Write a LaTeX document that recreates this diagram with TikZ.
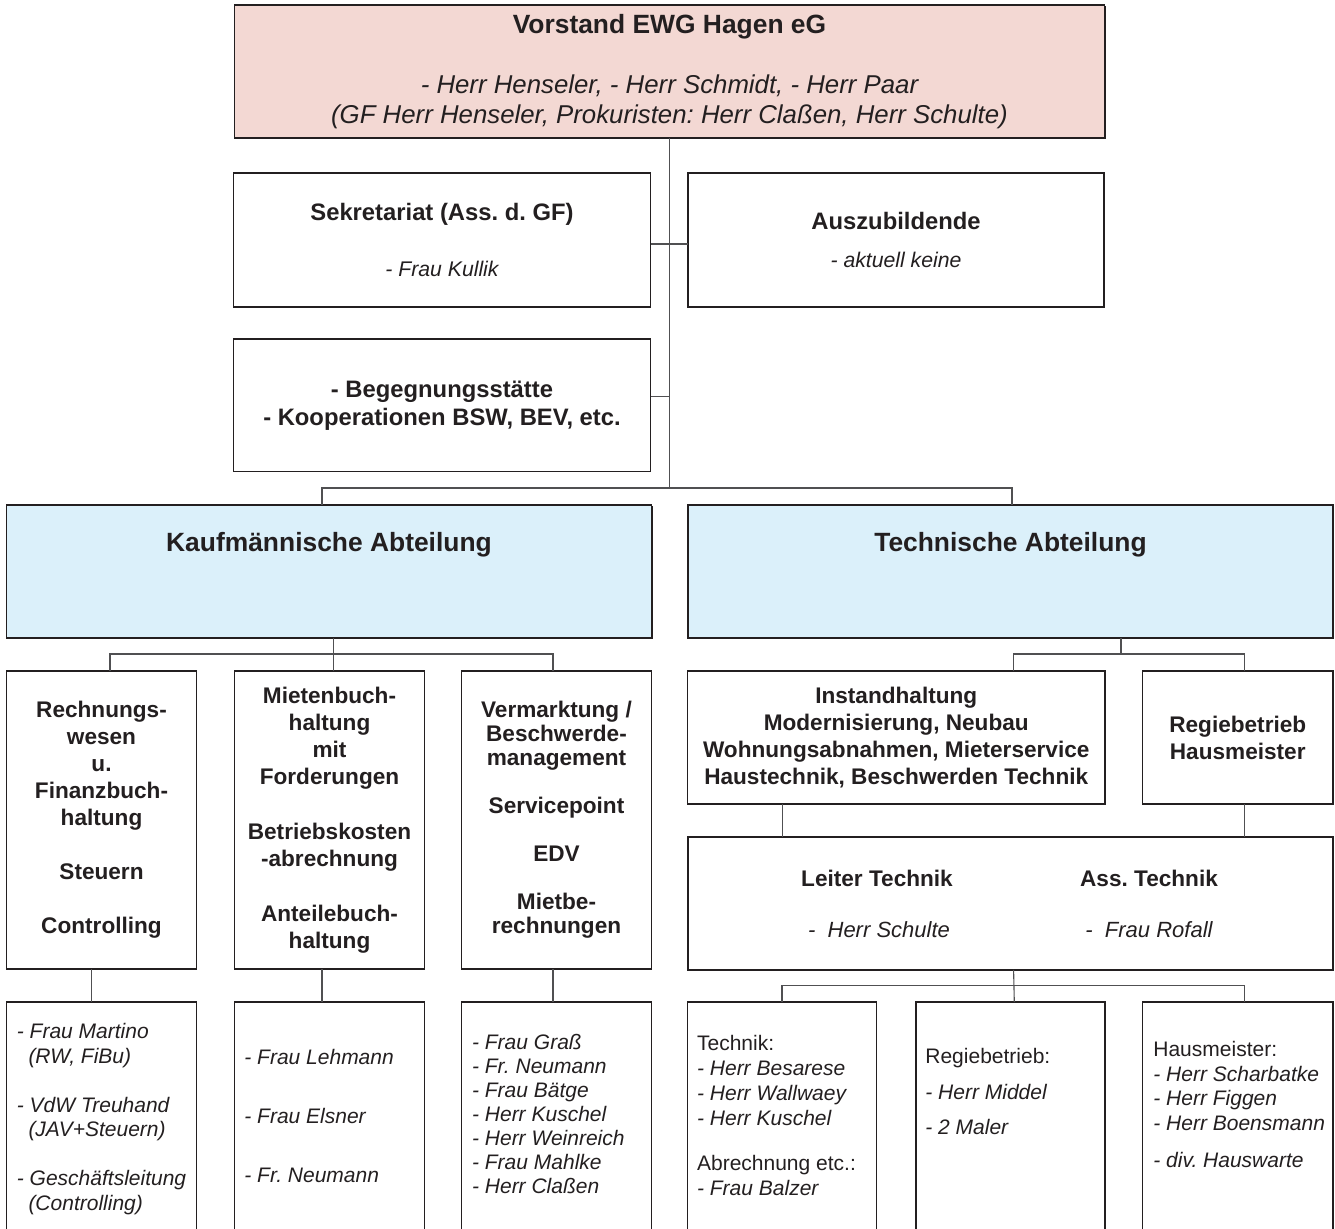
\documentclass[tikz,border=0pt]{standalone}
\usepackage{fontspec}
\setmainfont{Liberation Sans}
\usepackage{xcolor}
\usepackage{tikz}
\usetikzlibrary{shadows}
\definecolor{EwgInk}{HTML}{231F20}
\definecolor{EwgLine}{HTML}{505052}
\definecolor{EwgRose}{HTML}{F3D8D3}
\definecolor{EwgSky}{HTML}{DBF0FA}
\frenchspacing

\begin{document}
\begin{tikzpicture}[x=0.5pt, y=-0.5pt,
  box/.style={draw=EwgInk, line width=0.95pt, inner sep=0pt, outer sep=0pt, align=center, text=EwgInk},
  headbox/.style={box, drop shadow={shadow xshift=0.7pt, shadow yshift=-0.7pt, opacity=1, fill=EwgInk}},
  link/.style={draw=EwgLine, line width=0.55pt},
  txt/.style={text=EwgInk, inner sep=0pt},
  headtxt/.style={txt, anchor=base, font=\fontsize{13.2}{16}\selectfont\bfseries},
  midtxt/.style={font=\fontsize{11.9}{14}\selectfont\bfseries},
  subtxt/.style={font=\fontsize{11.3}{13.5}\selectfont\bfseries},
  listtxt/.style={txt, anchor=north west, align=left, font=\fontsize{10.5}{12.25}\selectfont\itshape}]
  \useasboundingbox (0,0) rectangle (1335,1228);
  % board at the top
  \node[headbox, fill=EwgRose, minimum width=435pt, minimum height=66.5pt,
        font=\fontsize{12.9}{15}\selectfont\itshape] (vorstand) at (669.5,71.5)
    {{\fontsize{13.2}{16}\selectfont\bfseries\upshape Vorstand EWG Hagen eG}\\[14.6pt]
     - Herr Henseler, - Herr Schmidt, - Herr Paar\\
     (GF Herr Henseler, Prokuristen: Herr Claßen, Herr Schulte)};
  % staff boxes hanging off the trunk
  \node[box, midtxt, minimum width=208.5pt, minimum height=66.85pt] (sekr) at (442,240)
    {Sekretariat (Ass. d. GF)\\[14pt]{\fontsize{10.6}{12}\selectfont\mdseries\itshape - Frau Kullik}};
  \node[box, midtxt, minimum width=208pt, minimum height=66.85pt] (azubi) at (896,240)
    {Auszubildende\\[4.7pt]{\fontsize{10.6}{12}\selectfont\mdseries\itshape - aktuell keine}};
  \node[box, midtxt, minimum width=208.5pt, minimum height=66.25pt] (begeg) at (442,405.25)
    {- Begegnungsstätte\\- Kooperationen BSW, BEV, etc.};
  % the two departments
  \node[headbox, fill=EwgSky, minimum width=322.5pt, minimum height=66.5pt] (kauf) at (329,571.5) {};
  \node[headtxt] (kauftitle) at (329,551.5) {Kaufmännische Abteilung};
  \node[headbox, fill=EwgSky, minimum width=322.5pt, minimum height=66.5pt] (tech) at (1010.5,571.5) {};
  \node[headtxt] (techtitle) at (1010.5,551.5) {Technische Abteilung};
  % commercial units
  \node[box, subtxt, minimum width=95pt, minimum height=149pt] (rw) at (101.5,820)
    {Rechnungs-\\wesen\\u.\\Finanzbuch-\\haltung\\[13.5pt]Steuern\\[13.5pt]Controlling};
  \node[box, subtxt, minimum width=95pt, minimum height=149pt] (mb) at (329.5,820)
    {Mietenbuch-\\haltung\\mit\\Forderungen\\[14pt]Betriebskosten\\-abrechnung\\[14pt]Anteilebuch-\\haltung};
  \node[box, subtxt, font=\fontsize{11.3}{12}\selectfont\bfseries, minimum width=95pt, minimum height=149pt] (vm) at (556.5,820)
    {Vermarktung /\\Beschwerde-\\management\\[12pt]Servicepoint\\[12pt]EDV\\[12pt]Mietbe-\\rechnungen};
  % technical units
  \node[box, subtxt, minimum width=208.75pt, minimum height=66.5pt] (inst) at (896.25,737.5)
    {Instandhaltung\\Modernisierung, Neubau\\Wohnungsabnahmen, Mieterservice\\Haustechnik, Beschwerden Technik};
  \node[box, subtxt, minimum width=95.25pt, minimum height=66.5pt] (regie) at (1237.75,737.5)
    {Regiebetrieb\\Hausmeister};
  \node[box, minimum width=322.5pt, minimum height=66.65pt] (leiter) at (1010.5,903.3) {};
  \node[txt, subtxt, anchor=base] (leitertitle) at (877,886.1) {Leiter Technik};
  \node[txt, subtxt, anchor=base] (asstitle) at (1149,886.1) {Ass. Technik};
  \node[txt, anchor=base, font=\fontsize{11}{13}\selectfont\itshape] (leitername) at (879,937.5) {-\ \ Herr Schulte};
  \node[txt, anchor=base, font=\fontsize{11}{13}\selectfont\itshape] (assname) at (1149,937.5) {-\ \ Frau Rofall};
  % staff boxes at the bottom (run off the page)
  \node[box, minimum width=95pt, minimum height=119pt] (rwp) at (101.5,1121) {};
  \node[box, minimum width=95pt, minimum height=119pt] (mbp) at (329.5,1121) {};
  \node[box, minimum width=95pt, minimum height=119pt] (vmp) at (556.5,1121) {};
  \node[box, minimum width=94.5pt, minimum height=119pt] (techp) at (782,1121) {};
  \node[box, minimum width=94.5pt, minimum height=119pt] (regiep) at (1010.3,1121) {};
  \node[box, minimum width=95.25pt, minimum height=119pt] (hausp) at (1237.75,1121) {};
  \node[listtxt] (rwlist) at (16.5,1023)
    {- Frau Martino\\\hspace*{5.8pt}(RW, FiBu)\\[12.25pt]- VdW Treuhand\\\hspace*{5.8pt}(JAV+Steuern)\\[12.25pt]- Geschäftsleitung\\\hspace*{5.8pt}(Controlling)};
  \node[listtxt] (mblist) at (244,1049.3)
    {- Frau Lehmann\\[17.25pt]- Frau Elsner\\[17.25pt]- Fr. Neumann};
  \node[listtxt, font=\fontsize{10.5}{12}\selectfont\itshape] (vmlist) at (471.7,1034)
    {- Frau Graß\\- Fr. Neumann\\- Frau Bätge\\- Herr Kuschel\\- Herr Weinreich\\- Frau Mahlke\\- Herr Claßen};
  \node[listtxt, font=\fontsize{10.5}{12.5}\selectfont\itshape] (techlist) at (696.7,1035.3)
    {{\upshape Technik:}\\- Herr Besarese\\- Herr Wallwaey\\- Herr Kuschel\\[10pt]{\upshape Abrechnung etc.:}\\- Frau Balzer};
  \node[listtxt] (regielist) at (925,1048.3)
    {{\upshape Regiebetrieb:}\\[5.75pt]- Herr Middel\\[5.25pt]- 2 Maler};
  \node[listtxt] (hauslist) at (1153,1041.3)
    {{\upshape Hausmeister:}\\- Herr Scharbatke\\- Herr Figgen\\- Herr Boensmann\\[6.25pt]- div. Hauswarte};
  % connectors
  \coordinate (topbar) at (669.5,488);
  \coordinate (kbar) at (333,654);
  \coordinate (tbar) at (1121,654);
  \coordinate (lbar) at (1013.6,985.7);
  \draw[link] (vorstand.south) -- (topbar);
  \draw[link] ([yshift=-2pt]sekr.east) -- ([yshift=-2pt]azubi.west);
  \draw[link] ([yshift=4.6pt]begeg.east) -- ([yshift=4.6pt]begeg.east -| topbar);
  \draw[link] ([xshift=-3.5pt]kauf.north) |- (topbar) -| ([xshift=0.75pt]tech.north);
  \draw[link] ([xshift=2.25pt]kauf.south) -- ([xshift=2pt]mb.north);
  \draw[link] ([xshift=4.25pt]rw.north) |- (kbar) -| ([xshift=-1.75pt]vm.north);
  \draw[link] ([xshift=-5pt]rw.south) -- ([xshift=-5pt]rwp.north);
  \draw[link] ([xshift=-3.75pt]mb.south) -- ([xshift=-3.75pt]mbp.north);
  \draw[link] ([xshift=-1.75pt]vm.south) -- ([xshift=-1.75pt]vmp.north);
  \draw[link] ([xshift=55.25pt]tech.south) -- (tbar);
  \draw[link] ([xshift=58.8pt]inst.north) |- (tbar) -| ([xshift=3.15pt]regie.north);
  \draw[link] ([xshift=-56.75pt]inst.south) -- ([xshift=-56.75pt]inst.south |- leiter.north);
  \draw[link] ([xshift=3.15pt]regie.south) -- ([xshift=3.15pt]regie.south |- leiter.north);
  \draw[link] ([xshift=1.55pt]leiter.south) -- ([xshift=2pt]regiep.north);
  \draw[link] (techp.north) |- (lbar) -| ([xshift=3.4pt]hausp.north);
\end{tikzpicture}
\end{document}
